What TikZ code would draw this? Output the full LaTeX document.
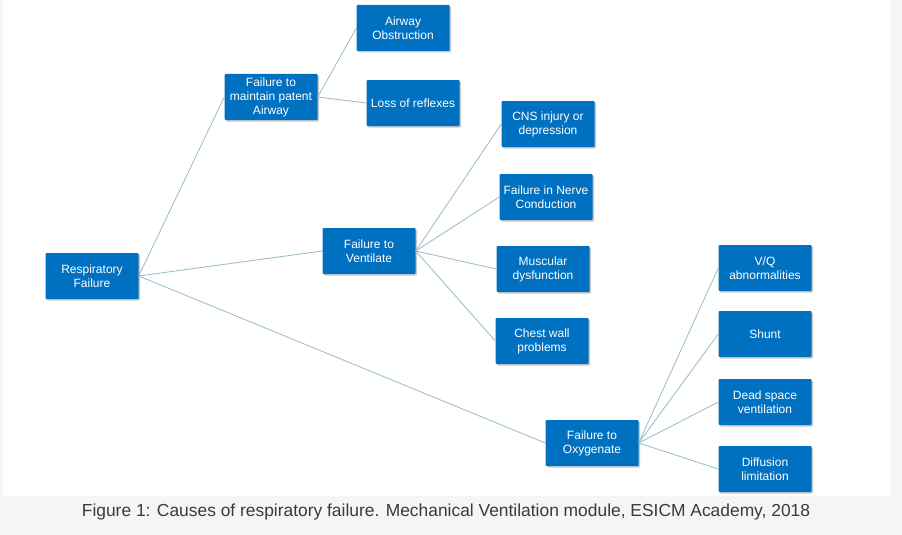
\documentclass[tikz,border=0pt]{standalone}
\usepackage{fontspec}
\setmainfont{Liberation Sans}
\usepackage{xcolor}
\usepackage{tikz}
\usetikzlibrary{positioning,shadows}

\definecolor{boxblue}{HTML}{0070C0}
\definecolor{linkgray}{HTML}{95BCC8}
\definecolor{pagegray}{HTML}{F5F5F5}
\definecolor{captext}{HTML}{3A3A3A}

\tikzset{
  cause/.style={fill=boxblue, text=white, minimum width=93pt, minimum height=46pt,
    inner sep=0pt, align=center, font=\fontsize{12}{14}\selectfont, rounded corners=1pt,
    drop shadow={shadow xshift=1.5pt, shadow yshift=-1.5pt, opacity=0.35, fill=black!60}},
  link/.style={linkgray, line width=0.8pt}
}

\begin{document}
\begin{tikzpicture}[x=1pt,y=-1pt]
% Page
\fill[pagegray] (0,0) rectangle (902,535);
\fill[white] (3,0) rectangle (890,496);
\useasboundingbox (0,0) rectangle (902,535);

% Root and main causes
\node[cause] (resp) at (92,276) {Respiratory\\Failure};
\node[cause] (airway) at (271,97) {Failure to\\maintain patent\\Airway};
\node[cause] (vent) at (369,251) {Failure to\\Ventilate};
\node[cause] (oxy) at (592,443) {Failure to\\Oxygenate};

% Airway causes
\node[cause] (obstr) at (403,28) {Airway\\Obstruction};
\node[cause] (reflex) at (413,103) {Loss of reflexes};

% Ventilation causes
\node[cause] (cns) at (548,124) {CNS injury or\\depression};
\node[cause] (nerve) at (546,197) {Failure in Nerve\\Conduction};
\node[cause] (musc) at (543,269) {Muscular\\dysfunction};
\node[cause] (chest) at (542,341) {Chest wall\\problems};

% Oxygenation causes
\node[cause] (vq) at (765,268) {V/Q\\abnormalities};
\node[cause] (shunt) at (765,334) {Shunt};
\node[cause] (dead) at (765,402) {Dead space\\ventilation};
\node[cause] (diff) at (765,469) {Diffusion\\limitation};

% Links
\foreach \a/\b in {resp/airway,resp/vent,resp/oxy,airway/obstr,airway/reflex,
    vent/cns,vent/nerve,vent/musc,vent/chest,oxy/vq,oxy/shunt,oxy/dead,oxy/diff}
  \draw[link] (\a.east) -- (\b.west);

% Caption
\node[font=\fontsize{17.4}{20}\selectfont, text=captext, anchor=base] (cap) at (446,516)
  {Figure 1: Causes of respiratory failure. Mechanical Ventilation module, ESICM Academy, 2018};
\end{tikzpicture}
\end{document}
